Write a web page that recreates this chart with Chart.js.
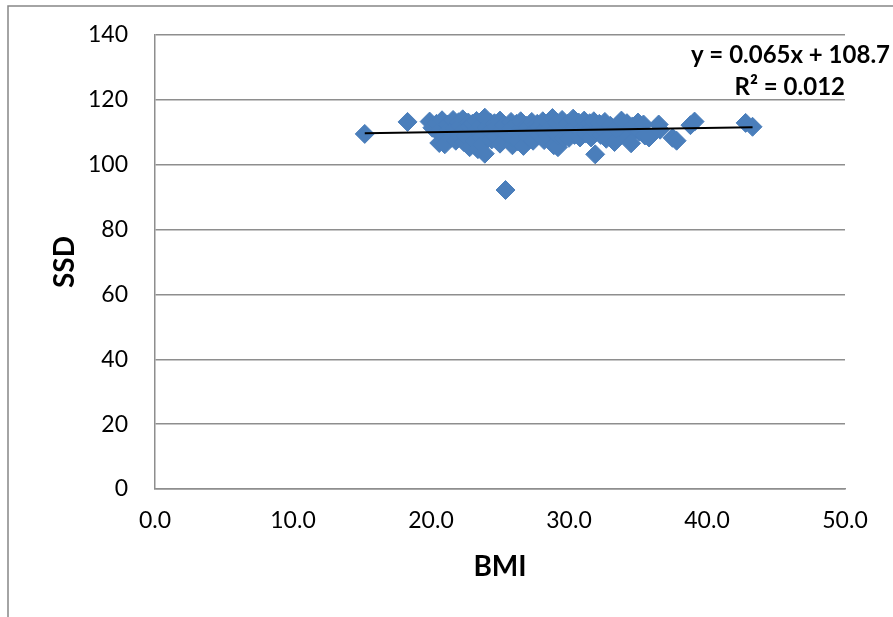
<!DOCTYPE html>
<html lang="en">
<head>
    <meta charset="UTF-8">
    <title>SSD vs BMI</title>
    <script src="https://cdn.jsdelivr.net/npm/chart.js"></script>
    <style>
        html, body {
            margin: 0;
            padding: 0;
            background: #fff;
        }
        canvas {
            display: block;
        }
    </style>
</head>
<body>
<canvas id="ssdChart" width="893" height="617"></canvas>

<script>
    // BMI / SSD pairs, one entry per subject
    const bmi = [
        15.2, 18.3, 19.9, 20.1, 20.4, 20.5, 20.6, 20.8, 20.9, 21.0,
        21.2, 21.3, 21.4, 21.6, 21.7, 21.8, 22.0, 22.0, 22.1, 22.3,
        22.4, 22.4, 22.5, 22.7, 22.8, 22.8, 23.0, 23.1, 23.1, 23.3,
        23.3, 23.4, 23.6, 23.6, 23.7, 23.9, 24.0, 23.9, 24.0, 24.3,
        24.3, 24.4, 24.6, 24.7, 24.7, 25.0, 25.1, 25.0, 25.4, 25.3,
        25.5, 25.8, 25.8, 25.9, 25.9, 26.2, 26.2, 26.3, 26.5, 26.6,
        26.7, 26.9, 27.0, 27.0, 27.3, 27.4, 27.4, 27.7, 27.8, 27.8,
        28.1, 28.2, 28.2, 28.5, 28.5, 28.6, 28.8, 28.9, 28.9, 29.1,
        29.2, 29.2, 29.5, 29.6, 29.6, 29.9, 30.0, 30.0, 30.3, 30.4,
        30.4, 30.7, 30.8, 30.8, 31.1, 31.2, 31.2, 31.5, 31.5, 31.6,
        31.9, 31.8, 31.9, 32.2, 32.3, 32.3, 32.6, 32.7, 32.7, 33.0,
        33.1, 33.3, 33.4, 33.8, 33.9, 34.2, 34.3, 34.5, 34.6, 35.0,
        35.1, 35.4, 35.5, 35.8, 36.5, 36.6, 37.5, 37.8, 38.8, 39.1,
        42.8, 43.3
    ];
    const ssd = [
        109.5, 113.2, 113.3, 111.4, 112.6, 110.1, 106.7, 113.7, 108.9, 106.3,
        112.4, 110.6, 108.1, 113.8, 111.1, 107.4, 113.1, 109.3, 111.9, 114.0,
        110.7, 106.9, 108.6, 113.0, 111.7, 105.4, 112.6, 109.7, 107.3, 113.5,
        110.9, 104.8, 112.1, 108.5, 106.2, 114.5, 111.5, 103.4, 109.2, 113.0,
        110.3, 107.8, 112.8, 108.7, 111.6, 113.6, 110.5, 106.5, 92.2, 112.2,
        109.4, 113.2, 111.2, 106.0, 108.3, 112.6, 109.8, 107.2, 113.4, 110.8,
        105.8, 112.0, 108.6, 111.4, 113.2, 110.0, 107.4, 112.6, 109.2, 111.6,
        113.4, 110.8, 107.6, 112.8, 108.4, 111.2, 114.4, 106.0, 110.2, 113.0,
        105.4, 109.0, 113.8, 111.6, 108.0, 112.6, 110.0, 108.3, 114.2, 111.2,
        109.2, 113.0, 110.4, 108.4, 113.6, 111.0, 109.6, 112.8, 110.6, 108.4,
        103.2, 113.4, 110.2, 112.6, 109.2, 111.4, 113.2, 110.0, 108.0, 112.0,
        109.4, 107.0, 111.2, 113.6, 110.4, 112.8, 108.6, 106.6, 111.8, 113.0,
        110.2, 112.4, 109.0, 108.4, 112.4, 110.8, 108.3, 107.4, 112.2, 113.3,
        112.9, 111.7
    ];

    // linear trendline as printed on the chart
    const trendSlope = 0.065;
    const trendIntercept = 108.7;
    const trendR2 = 0.012;
    const trendX = [15.2, 43.3];

    const yTicks = [0, 20, 40, 60, 80, 100, 120, 140];
    const xTicks = [0, 10, 20, 30, 40, 50];

    const points = bmi.map((b, i) => ({ x: b, y: ssd[i] }));
    const trendPoints = trendX.map(x => ({ x: x, y: trendSlope * x + trendIntercept }));

    const gridGrey = '#8e8e8e';
    const markerBlue = '#4a7ebb';

    Chart.defaults.font.family = 'Lato, "Open Sans", sans-serif';
    Chart.defaults.color = '#000';

    // outer chart border (left and top edges)
    const outerFrame = {
        id: 'outerFrame',
        beforeDraw(chart) {
            const ctx = chart.ctx;
            ctx.save();
            ctx.strokeStyle = '#868686';
            ctx.lineWidth = 1.5;
            ctx.beginPath();
            ctx.moveTo(8, chart.height);
            ctx.lineTo(8, 6);
            ctx.lineTo(chart.width, 6);
            ctx.stroke();
            ctx.restore();
        }
    };

    // trendline equation and R² text
    const trendLabel = {
        id: 'trendLabel',
        afterDraw(chart) {
            const ctx = chart.ctx;
            const area = chart.chartArea;
            ctx.save();
            ctx.fillStyle = '#000';
            ctx.font = 'bold 24px Lato, "Open Sans", sans-serif';
            ctx.textAlign = 'right';
            ctx.textBaseline = 'middle';
            const eq = 'y = ' + trendSlope.toFixed(3) + 'x + ' + trendIntercept.toFixed(1);
            ctx.fillText(eq, area.right + 45, area.top + 20);
            ctx.fillText('R\u00b2 = ' + trendR2.toFixed(3), area.right, area.top + 52);
            ctx.restore();
        }
    };

    const ctx = document.getElementById('ssdChart').getContext('2d');
    const ssdChart = new Chart(ctx, {
        type: 'scatter',
        data: {
            datasets: [
                {
                    type: 'line',
                    label: 'Linear (SSD)',
                    data: trendPoints,
                    borderColor: '#000',
                    borderWidth: 2,
                    pointRadius: 0,
                    fill: false,
                    order: 0
                },
                {
                    label: 'SSD',
                    data: points,
                    pointStyle: 'rectRot',
                    pointRadius: 9.5,
                    pointHoverRadius: 9.5,
                    backgroundColor: markerBlue,
                    borderColor: markerBlue,
                    borderWidth: 1,
                    order: 1
                }
            ]
        },
        options: {
            responsive: false,
            animation: false,
            devicePixelRatio: 1,
            layout: {
                padding: { top: 35, right: 48, bottom: 0, left: 0 }
            },
            plugins: {
                legend: { display: false },
                tooltip: { enabled: false }
            },
            scales: {
                x: {
                    type: 'linear',
                    min: 0,
                    max: 50,
                    afterFit(scale) { scale.height = 128; },
                    afterBuildTicks(scale) { scale.ticks = xTicks.map(v => ({ value: v })); },
                    ticks: {
                        font: { size: 23 },
                        padding: 18,
                        callback: v => v.toFixed(1)
                    },
                    grid: { display: false, drawTicks: false, tickLength: 0 },
                    border: { display: true, color: gridGrey, width: 1.5 },
                    title: {
                        display: true,
                        text: 'BMI',
                        font: { size: 28, weight: 'bold' },
                        padding: { top: 0, bottom: 33 }
                    }
                },
                y: {
                    min: 0,
                    max: 140,
                    afterFit(scale) {
                        scale.width = 155;
                        // top label only needs half its height above the plot
                        scale.paddingTop = 14;
                    },
                    afterBuildTicks(scale) { scale.ticks = yTicks.map(v => ({ value: v })); },
                    ticks: {
                        font: { size: 23 },
                        padding: 27
                    },
                    grid: { color: gridGrey, lineWidth: 1.5, drawTicks: false, tickLength: 0 },
                    border: { display: true, color: gridGrey, width: 1.5 },
                    title: {
                        display: true,
                        text: 'SSD',
                        font: { size: 28, weight: 'bold' },
                        padding: { top: 48, bottom: 0 }
                    }
                }
            }
        },
        plugins: [outerFrame, trendLabel]
    });
</script>
</body>
</html>
